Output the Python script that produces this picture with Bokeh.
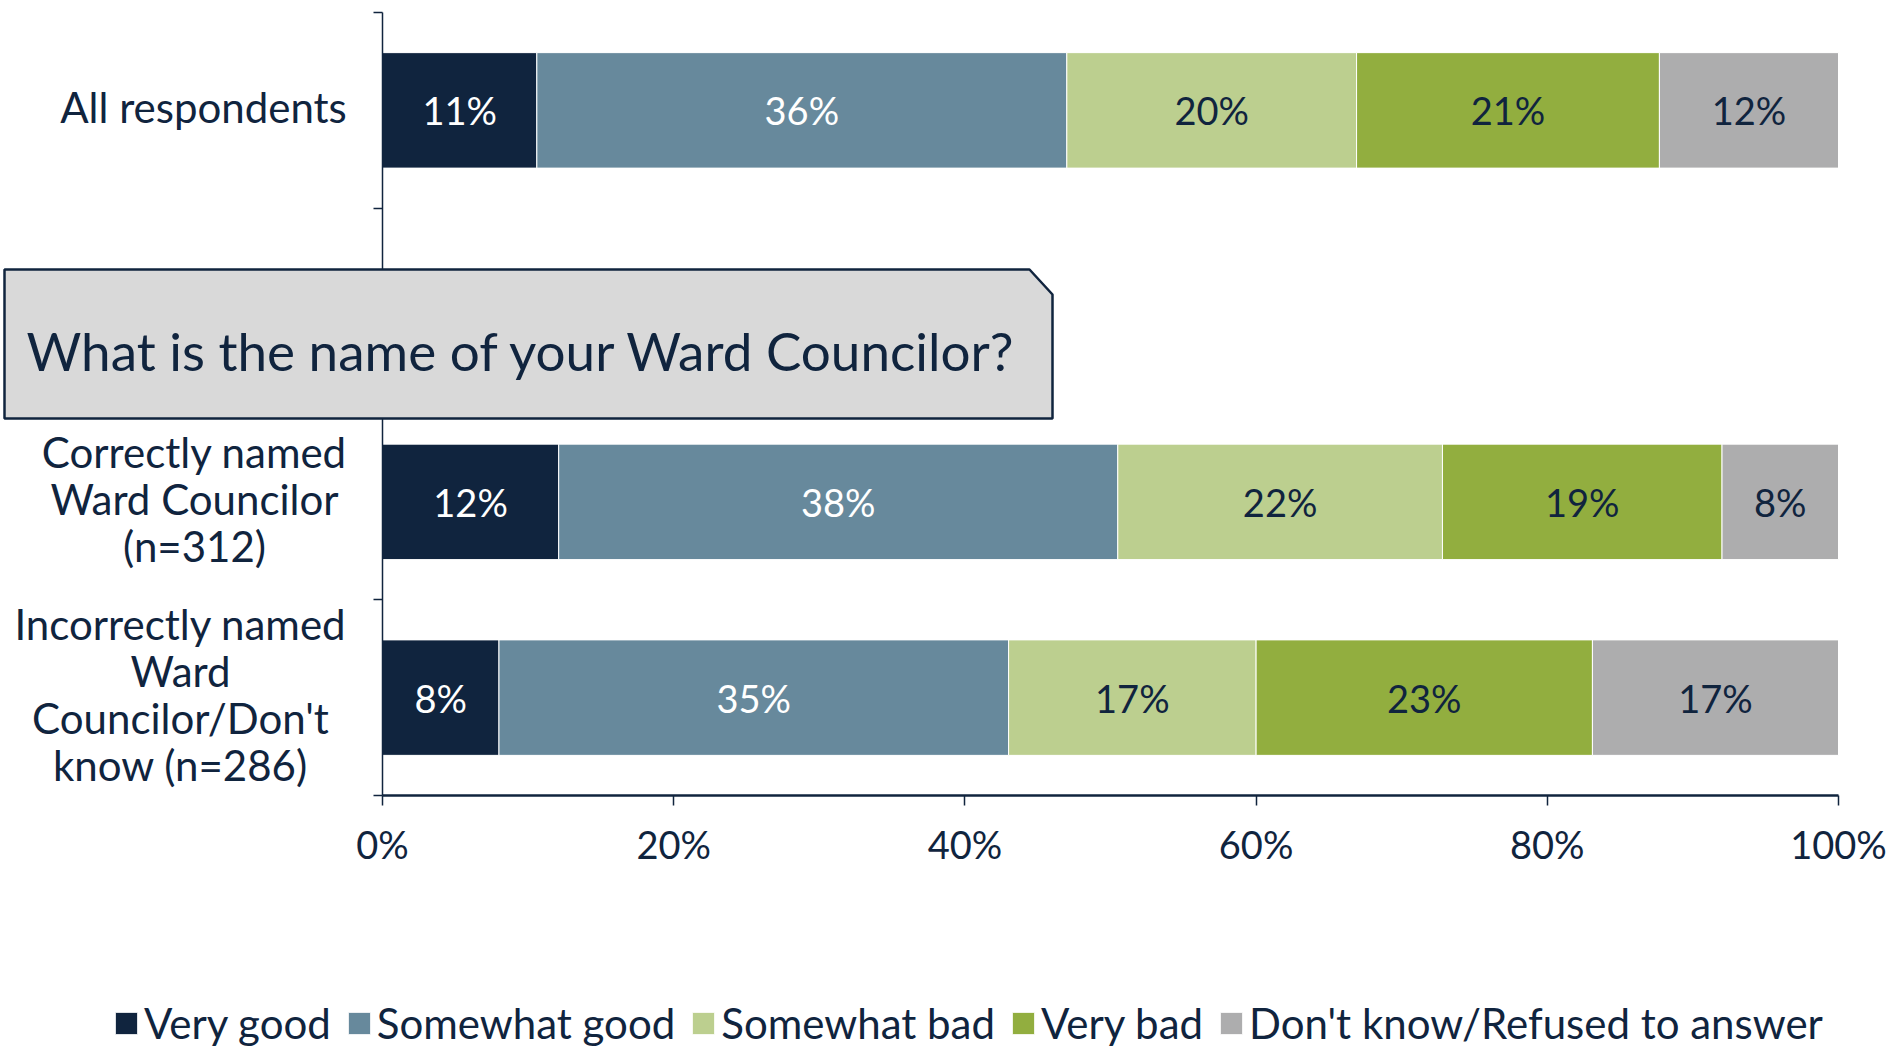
from bokeh.plotting import figure
from bokeh.models import (ColumnDataSource, Range1d, FixedTicker, Legend, LegendItem,
                          Label, PolyAnnotation)
from bokeh.core.properties import value
from bokeh.embed import file_html
from bokeh.resources import INLINE

# ---------------- data ----------------
categories = [
    ["All respondents"],
    [],  # empty row (covered by the callout)
    ["Correctly named", "Ward Councilor", "(n=312)"],
    ["Incorrectly named", "Ward", "Councilor/Don't", "know (n=286)"],
]
series = ["Very good", "Somewhat good", "Somewhat bad", "Very bad", "Don't know/Refused to answer"]
very_good     = [10.6, 12.1, 8.0]
somewhat_good = [36.4, 38.4, 35.0]
somewhat_bad  = [19.9, 22.3, 17.0]
very_bad      = [20.8, 19.2, 23.1]
dont_know     = [12.3, 8.0, 16.9]
bar_rows = [0, 2, 3]          # indices into categories that carry bars
x_ticks = [0, 20, 40, 60, 80, 100]
x_tick_labels = ["0%", "20%", "40%", "60%", "80%", "100%"]
question = "What is the name of your Ward Councilor?"

colors = ["#10243e", "#67899c", "#bccf8f", "#92ae3f", "#adadae"]
label_colors = ["white", "white", "#10243e", "#10243e", "#10243e"]
NAVY = "#10243e"
FONT = "Lato"

# ---------------- geometry (figure pixels) ----------------
W, H = 1888, 1048
AX_X0, AX_X1 = 382, 1838      # pixel of 0% and 100%
AX_YB, AX_YT = 795, 12        # pixel of bottom / top of the category axis
n_rows = len(categories)
kx = (AX_X1 - AX_X0) / 100.0
ky = (AX_YB - AX_YT) / float(n_rows)

def dx(px):
    return (px - AX_X0) / kx

def dy(py):
    return (AX_YB - py) / ky

p = figure(width=W, height=H, output_backend="svg", toolbar_location=None,
           x_range=Range1d(dx(0), dx(W)), y_range=Range1d(dy(H), dy(0)),
           min_border=0)
p.outline_line_color = None
p.xgrid.visible = False
p.ygrid.visible = False
p.background_fill_color = "white"

def row_y(i):
    return n_rows - i - 0.5

ys = [row_y(i) for i in bar_rows]
vals = [very_good, somewhat_good, somewhat_bad, very_bad, dont_know]
keys = ["s%d" % k for k in range(len(series))]
data = {"y": ys}
for k, v in zip(keys, vals):
    data[k] = v
source = ColumnDataSource(data)

renderers = p.hbar_stack(keys, y="y", height=0.59, color=colors, source=source,
                         line_color="white", line_width=1)

# data labels
left = [0.0] * len(ys)
for k, v in enumerate(vals):
    mids = [l + x / 2 for l, x in zip(left, v)]
    labels = ["%d%%" % round(x) for x in v]
    src = ColumnDataSource(dict(x=mids, y=ys, t=labels))
    p.text(x="x", y="y", text="t", source=src, text_align="center", text_baseline="middle",
           text_font=value(FONT), text_font_size="38px", text_color=label_colors[k])
    left = [l + x for l, x in zip(left, v)]

# axes (fixed at the data origin so the frame can span the whole canvas)
p.xaxis.fixed_location = 0
p.xaxis.bounds = (0, 100)
p.xaxis.ticker = FixedTicker(ticks=x_ticks)
p.xaxis.major_label_overrides = {t: s for t, s in zip(x_ticks, x_tick_labels)}
p.xaxis.major_label_text_font = FONT
p.xaxis.major_label_text_font_size = "38px"
p.xaxis.major_label_text_color = NAVY
p.xaxis.major_label_standoff = 15
p.xaxis.axis_line_color = NAVY
p.xaxis.axis_line_width = 2.5
p.xaxis.major_tick_line_color = NAVY
p.xaxis.major_tick_line_width = 1.5
p.xaxis.major_tick_out = 10
p.xaxis.major_tick_in = 0
p.xaxis.minor_tick_line_color = None

y_ticks = list(range(n_rows + 1))
p.yaxis.fixed_location = 0
p.yaxis.bounds = (0, n_rows)
p.yaxis.ticker = FixedTicker(ticks=y_ticks)
p.yaxis.major_label_overrides = {t: "" for t in y_ticks}
p.yaxis.axis_line_color = NAVY
p.yaxis.axis_line_width = 1.5
p.yaxis.major_tick_line_color = NAVY
p.yaxis.major_tick_line_width = 1.5
p.yaxis.major_tick_out = 9
p.yaxis.major_tick_in = 0
p.yaxis.minor_tick_line_color = None

# category labels (centred lines, block right-aligned near the axis)
block_offsets = [-179, 0, -188, -202]   # px from axis to block centre
line_gap = 47
for i, lines in enumerate(categories):
    n = len(lines)
    for j, txt in enumerate(lines):
        p.add_layout(Label(x=0, y=row_y(i), x_offset=block_offsets[i],
                           y_offset=3 - (j - (n - 1) / 2) * line_gap, text=txt,
                           text_align="center", text_baseline="middle",
                           text_font=FONT, text_font_size="42px", text_color=NAVY))

# callout box
bx0, bx1, bcut = dx(4), dx(1052), dx(1029)
by_top, by_bot, by_cut = dy(269), dy(418), dy(294)
p.add_layout(PolyAnnotation(xs=[bx0, bcut, bx1, bx1, bx0],
                            ys=[by_top, by_top, by_cut, by_bot, by_bot],
                            fill_color="#d9d9d9", fill_alpha=1.0,
                            line_color=NAVY, line_alpha=1.0, line_width=2.5))
p.add_layout(Label(x=dx(26), y=dy(350), text=question,
                   text_align="left", text_baseline="alphabetic",
                   text_font=FONT, text_font_size="53px", text_color=NAVY))

# legend
items = [LegendItem(label=s, renderers=[r]) for s, r in zip(series, renderers)]
legend = Legend(items=items, orientation="horizontal", location=(112, 0),
                glyph_width=28, glyph_height=28, label_standoff=4, spacing=14,
                label_text_font=FONT, label_text_font_size="42px", label_text_color=NAVY,
                label_height=40, padding=0, margin=0,
                border_line_color=None, background_fill_alpha=0)
p.add_layout(legend, "center")

open("out.html", "w").write(file_html(p, INLINE))
